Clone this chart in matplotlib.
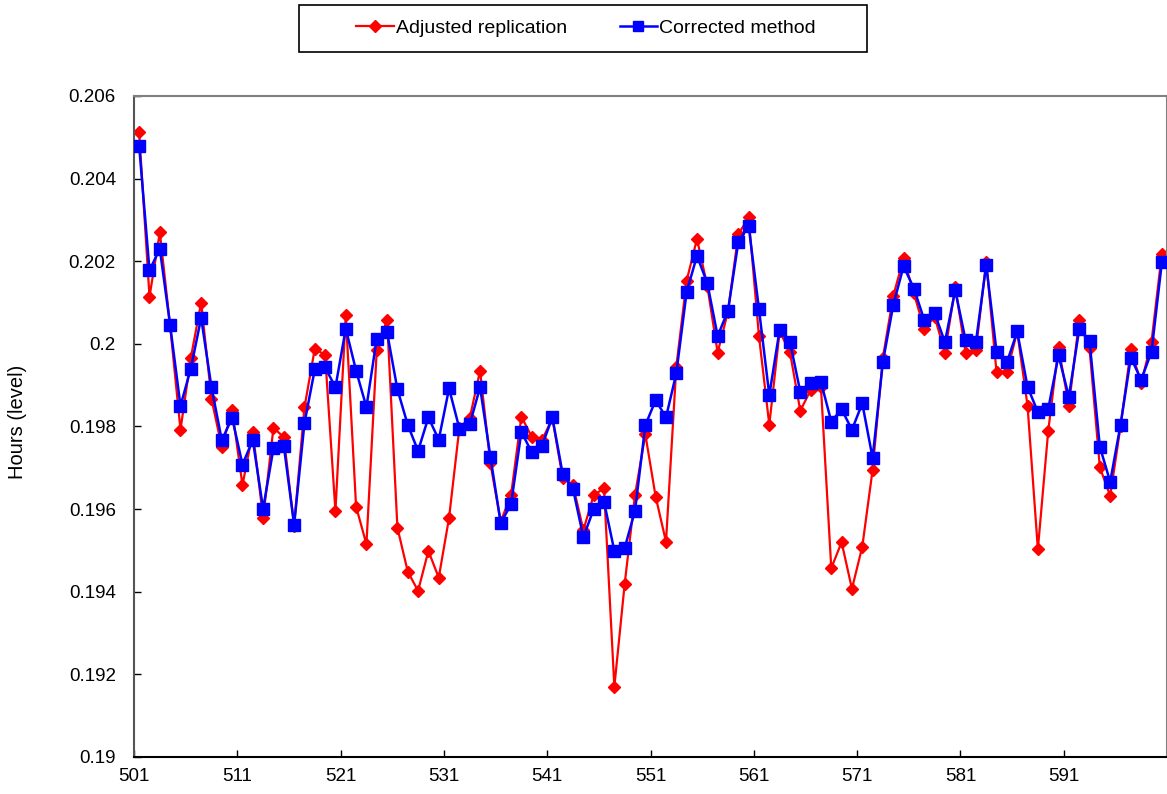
import numpy as np
import matplotlib
matplotlib.use('Agg')
import matplotlib.pyplot as plt
from matplotlib.patches import Rectangle

# periods 501..600
periods = np.arange(501, 601)

adjusted = [0.20512, 0.20114, 0.20270, 0.20043, 0.19792, 0.19966, 0.20100, 0.19867, 0.19750, 0.19840,
            0.19658, 0.19787, 0.19578, 0.19797, 0.19774, 0.19560, 0.19846, 0.19988, 0.19973, 0.19595,
            0.20069, 0.19606, 0.19515, 0.19985, 0.20059, 0.19555, 0.19449, 0.19402, 0.19499, 0.19434,
            0.19579, 0.19797, 0.19820, 0.19935, 0.19711, 0.19570, 0.19634, 0.19824, 0.19775, 0.19767,
            0.19820, 0.19675, 0.19658, 0.19549, 0.19634, 0.19650, 0.19170, 0.19419, 0.19634, 0.19781,
            0.19630, 0.19521, 0.19945, 0.20153, 0.20254, 0.20140, 0.19979, 0.20078, 0.20265, 0.20306,
            0.20019, 0.19804, 0.20030, 0.19980, 0.19838, 0.19888, 0.19896, 0.19457, 0.19520, 0.19407,
            0.19509, 0.19695, 0.19967, 0.20116, 0.20207, 0.20122, 0.20036, 0.20066, 0.19979, 0.20137,
            0.19979, 0.19985, 0.20199, 0.19931, 0.19931, 0.20030, 0.19850, 0.19503, 0.19789, 0.19992,
            0.19850, 0.20058, 0.19989, 0.19701, 0.19632, 0.19800, 0.19987, 0.19905, 0.20005, 0.20218]

corrected = [0.20479, 0.20178, 0.20230, 0.20045, 0.19850, 0.19940, 0.20063, 0.19895, 0.19767, 0.19821,
             0.19708, 0.19767, 0.19601, 0.19747, 0.19754, 0.19562, 0.19808, 0.19938, 0.19943, 0.19895,
             0.20037, 0.19935, 0.19847, 0.20013, 0.20028, 0.19890, 0.19804, 0.19741, 0.19822, 0.19768,
             0.19892, 0.19795, 0.19805, 0.19895, 0.19727, 0.19566, 0.19612, 0.19787, 0.19738, 0.19754,
             0.19822, 0.19685, 0.19649, 0.19532, 0.19600, 0.19618, 0.19499, 0.19506, 0.19596, 0.19803,
             0.19864, 0.19822, 0.19929, 0.20126, 0.20213, 0.20147, 0.20019, 0.20080, 0.20246, 0.20286,
             0.20084, 0.19876, 0.20034, 0.20005, 0.19884, 0.19906, 0.19908, 0.19812, 0.19842, 0.19792,
             0.19856, 0.19724, 0.19957, 0.20094, 0.20188, 0.20134, 0.20058, 0.20075, 0.20004, 0.20130,
             0.20009, 0.20004, 0.20191, 0.19981, 0.19955, 0.20030, 0.19896, 0.19835, 0.19842, 0.19972,
             0.19872, 0.20035, 0.20007, 0.19751, 0.19666, 0.19804, 0.19967, 0.19913, 0.19981, 0.20197]

xtick_labels = ['501', '511', '521', '531', '541', '551', '561', '571', '581', '591']
ytick_vals = [0.19, 0.192, 0.194, 0.196, 0.198, 0.2, 0.202, 0.204, 0.206]
ytick_labels = ['0.19', '0.192', '0.194', '0.196', '0.198', '0.2', '0.202', '0.204', '0.206']

font = ['Liberation Sans', 'DejaVu Sans']

fig = plt.figure(figsize=(11.67, 7.94), dpi=100)
ax = fig.add_axes([134/1167., 1-757/794., 1-134/1167., (757-96)/794.])

ax.plot(periods, adjusted, color='#ff0000', lw=1.6, marker='D', ms=6.5,
        mec='#ff0000', mfc='#ff0000', label='Adjusted replication', zorder=2)
ax.plot(periods, corrected, color='#0000ff', lw=1.8, marker='s', ms=8,
        mec='#0000ff', mfc='#0000ff', label='Corrected method', zorder=3)

ax.set_xlim(500.5, 600.5)
ax.set_ylim(0.19, 0.206)
ax.set_xticks([500.5 + 10*k for k in range(10)])
ax.set_xticklabels(xtick_labels, family=font, fontsize=13.5)
ax.set_yticks(ytick_vals)
ax.set_yticklabels(ytick_labels, family=font, fontsize=13.5)
ax.tick_params(axis='x', direction='in', length=5, width=1, pad=8)
ax.tick_params(axis='y', direction='in', length=5, width=1, pad=13)

ax.spines['bottom'].set_color('black')
ax.spines['left'].set_color('#555555')
ax.spines['top'].set_color('#808080')
ax.spines['right'].set_color('#808080')
for s in ax.spines.values():
    s.set_linewidth(1.5)

fig.text(18/1167., 1-422/794., 'Hours (level)', rotation=90, ha='center', va='center',
         fontsize=14.5, family=font)

# legend box
fig.patches.append(Rectangle((299/1167., 1-52/794.), 568/1167., 47/794., transform=fig.transFigure,
                             facecolor='white', edgecolor='black', lw=1.2))
fig.legend(loc='center', bbox_to_anchor=(586/1167., 1-28.5/794.), ncol=2, frameon=False,
           prop={'family': font, 'size': 14}, handlelength=1.95, handletextpad=0.1,
           columnspacing=2.7, numpoints=1, markerscale=0.9)

fig.savefig('out.png', dpi=100)
